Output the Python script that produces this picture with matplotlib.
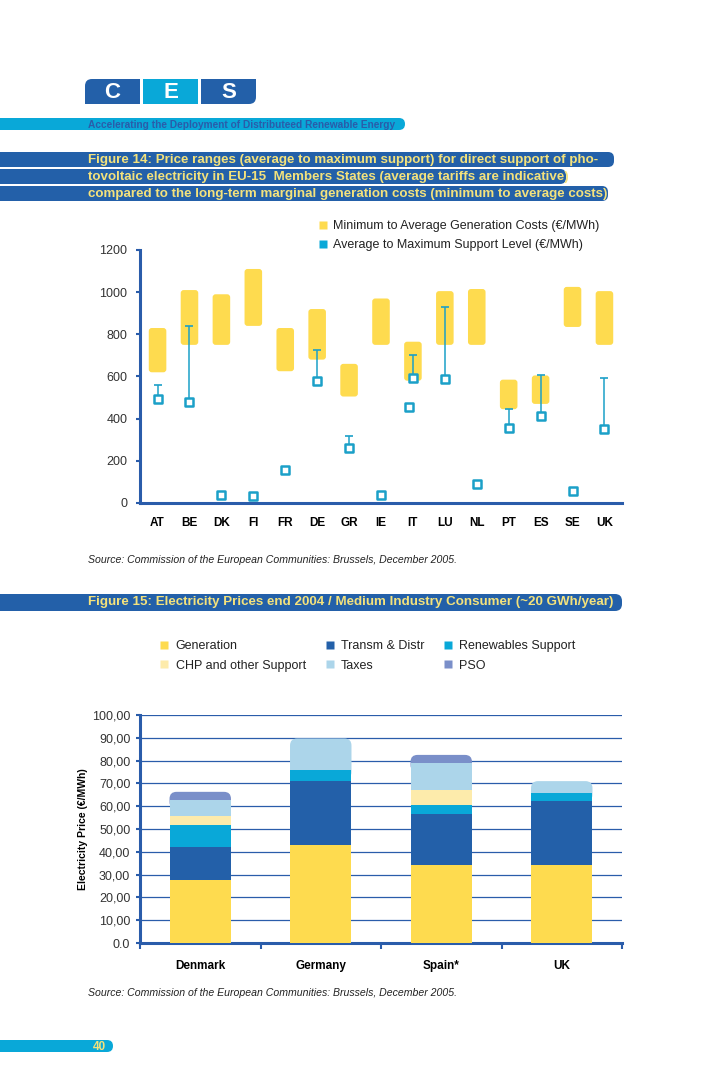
import matplotlib
matplotlib.use('Agg')
import matplotlib.pyplot as plt
from matplotlib.patches import FancyBboxPatch, Rectangle
from matplotlib.lines import Line2D
from matplotlib.markers import MarkerStyle
import numpy as np

plt.rcParams['font.family'] = ['Liberation Sans', 'DejaVu Sans']

# --- Figure 14 data (EUR/MWh) ---
countries = ['AT', 'BE', 'DK', 'FI', 'FR', 'DE', 'GR', 'IE', 'IT', 'LU', 'NL', 'PT', 'ES', 'SE', 'UK']
gen_min = [620, 750, 750, 840, 625, 680, 505, 750, 580, 750, 750, 445, 470, 835, 750]
gen_avg = [830, 1010, 990, 1110, 830, 920, 660, 970, 765, 1005, 1015, 585, 605, 1025, 1005]
support_avg = [495, 480, 40, 35, 155, 580, 260, 40, 595, 590, 90, 355, 415, 55, 350]
support_max = [558, 840, None, None, None, 725, 320, None, 700, 930, None, 445, 605, None, 595]
extra_country = 'IT'   # second support point drawn beside IT
extra_value = 455
y14_ticks = [0, 200, 400, 600, 800, 1000, 1200]

# --- Figure 15 data (EUR/MWh) ---
markets = ['Denmark', 'Germany', 'Spain*', 'UK']
generation = [27.8, 43.1, 34.2, 34.4]
transm_distr = [14.1, 27.8, 22.4, 27.7]
renewables = [9.8, 5.0, 3.8, 3.9]
chp_other = [3.9, 0.0, 6.8, 0.0]
taxes = [7.2, 13.8, 11.8, 5.0]
pso = [3.5, 0.0, 3.5, 0.0]
price_ticks = [0, 10, 20, 30, 40, 50, 60, 70, 80, 90, 100]
price_tick_labels = ['0.0', '10,00', '20,00', '30,00', '40,00', '50,00',
                     '60,00', '70,00', '80,00', '90,00', '100,00']

YELLOW = '#fedb4f'
DBLUE = '#2360a9'
CYAN = '#09a8d8'
LYELLOW = '#fdebab'
LBLUE = '#acd5ea'
PSOCOL = '#7a8fc9'
AXBLUE = '#2a5caa'
MARK = '#1ba0c8'
TXTYEL = '#f4e27c'

W, H = 728, 1092
fig = plt.figure(figsize=(W / 100, H / 100), dpi=100)

# page layer in pixel coordinates
page = fig.add_axes([0, 0, 1, 1], zorder=0)
page.set_xlim(0, W)
page.set_ylim(H, 0)
page.axis('off')


def rbox(x0, y0, x1, y1, color, r):
    page.add_patch(FancyBboxPatch((x0, y0), x1 - x0, y1 - y0,
                                  boxstyle='round,pad=0,rounding_size=%s' % r,
                                  fc=color, ec='none'))


# CES logo
for i, (letter, col) in enumerate(zip('CES', [DBLUE, CYAN, DBLUE])):
    x0 = 85 + i * 58
    if i == 1:
        page.add_patch(Rectangle((x0, 79), 55, 25, fc=col, ec='none'))
    else:
        rbox(x0, 79, x0 + 55, 104, col, 7)
        if i == 0:
            page.add_patch(Rectangle((x0 + 8, 79), 47, 25, fc=col, ec='none'))
            page.add_patch(Rectangle((x0, 87), 55, 17, fc=col, ec='none'))
        else:
            page.add_patch(Rectangle((x0, 79), 47, 25, fc=col, ec='none'))
            page.add_patch(Rectangle((x0, 79), 55, 17, fc=col, ec='none'))
    page.text(x0 + 27.5, 92, letter, color='white', fontsize=16, fontweight='bold',
              ha='center', va='center')

rbox(-20, 118, 405, 130, CYAN, 6)
page.text(88, 124.5, 'Accelerating the Deployment of Distributeed Renewable Energy',
          color=AXBLUE, fontsize=7.3, fontweight='bold', va='center')

title14 = ['Figure 14: Price ranges (average to maximum support) for direct support of pho-',
           'tovoltaic electricity in EU-15  Members States (average tariffs are indicative)',
           'compared to the long-term marginal generation costs (minimum to average costs)']
ends14 = [614, 566, 608]
for k, (line, xe) in enumerate(zip(title14, ends14)):
    y0 = 152 + 17 * k
    rbox(-20, y0, xe, y0 + 15, DBLUE, 6)
    page.text(88, y0 + 7.8, line, color=TXTYEL, fontsize=9.6, fontweight='bold',
              va='center')

source = 'Source: Commission of the European Communities: Brussels, December 2005.'
page.text(88, 560, source, fontsize=7.6, style='italic', color='#222222', va='center')
page.text(88, 993, source, fontsize=7.6, style='italic', color='#222222', va='center')

rbox(-20, 594, 622, 611, DBLUE, 7)
page.text(88, 602.5, 'Figure 15: Electricity Prices end 2004 / Medium Industry Consumer (~20 GWh/year)',
          color=TXTYEL, fontsize=9.6, fontweight='bold', va='center')

rbox(-20, 1040, 113, 1052, CYAN, 6)
page.text(93, 1046.5, '40', color=TXTYEL, fontsize=8.5, fontweight='bold', va='center')


def data_aspect(ax):
    bb = ax.get_position()
    xl, yl = ax.get_xlim(), ax.get_ylim()
    px = bb.width * W / (xl[1] - xl[0])
    py = bb.height * H / (yl[1] - yl[0])
    return px / py, px


# ---------------- Figure 14 ----------------
ax1 = fig.add_axes([140 / W, 1 - 503 / H, 482 / W, 253 / H], zorder=1)
ax1.patch.set_visible(False)
x = np.arange(len(countries))
ax1.set_xlim(-0.55, len(countries) - 0.45)
ax1.set_ylim(0, 1200)
asp1, px1 = data_aspect(ax1)
bw = 0.55
for xi, lo, hi in zip(x, gen_min, gen_avg):
    ax1.add_patch(FancyBboxPatch((xi - bw / 2, lo), bw, hi - lo,
                                 boxstyle='round,pad=0,rounding_size=%s' % (3 / px1),
                                 mutation_aspect=asp1, fc=YELLOW, ec='none', zorder=2))

xe = [xi for xi, m in zip(x, support_max) if m is not None]
ye = [a for a, m in zip(support_avg, support_max) if m is not None]
up = [m - a for a, m in zip(support_avg, support_max) if m is not None]
ax1.errorbar(xe, ye, yerr=[np.zeros(len(up)), up], fmt='none', ecolor=MARK,
             elinewidth=1.1, capsize=3, capthick=1.2, zorder=3)
sq = MarkerStyle('s', joinstyle='round')
ax1.plot(x, support_avg, linestyle='none', marker=sq, ms=5.5, mew=1.8,
         mec=MARK, mfc='white', zorder=4)
ax1.plot([countries.index(extra_country) - 0.13], [extra_value], linestyle='none',
         marker=sq, ms=5.5, mew=1.8, mec=MARK, mfc='white', zorder=4)

ax1.set_xticks(x)
ax1.set_xticklabels(countries, fontsize=8.5, fontweight='bold')
ax1.set_yticks(y14_ticks)
ax1.tick_params(axis='x', length=0, pad=10)
ax1.tick_params(axis='y', length=3, width=1.5, color=AXBLUE, labelsize=9,
                labelcolor='#333333', pad=6)
for s in ['top', 'right']:
    ax1.spines[s].set_visible(False)
for s in ['left', 'bottom']:
    ax1.spines[s].set_color(AXBLUE)
    ax1.spines[s].set_linewidth(2.2)

h14 = [Line2D([], [], linestyle='none', marker='s', ms=6, mfc=YELLOW, mec='none'),
       Line2D([], [], linestyle='none', marker='s', ms=6, mfc=CYAN, mec='none')]
fig.legend(h14, ['Minimum to Average Generation Costs (€/MWh)',
                 'Average to Maximum Support Level (€/MWh)'],
           loc='upper left', bbox_to_anchor=(312 / W, 1 - 214 / H), frameon=False,
           fontsize=9, handlelength=0.8, handletextpad=0.4, borderpad=0,
           labelspacing=0.55, labelcolor='#222222')

# ---------------- Figure 15 ----------------
ax2 = fig.add_axes([140 / W, 1 - 943 / H, 482 / W, 228 / H], zorder=1)
ax2.patch.set_visible(False)
xm = np.arange(len(markets))
ax2.set_xlim(-0.5, len(markets) - 0.5)
ax2.set_ylim(0, 100)
asp2, px2 = data_aspect(ax2)

series = np.array([generation, transm_distr, renewables, chp_other, taxes, pso])
colors = [YELLOW, DBLUE, CYAN, LYELLOW, LBLUE, PSOCOL]
labels = ['Generation', 'Transm & Distr', 'Renewables Support',
          'CHP and other Support', 'Taxes', 'PSO']
bottoms = np.vstack([np.zeros(len(markets)), np.cumsum(series, axis=0)[:-1]])
top_idx = [max(i for i in range(len(series)) if series[i, j] > 0) for j in range(len(markets))]
bw2 = 0.51
for i in range(len(series)):
    h = np.array([0 if top_idx[j] == i else series[i, j] for j in range(len(markets))])
    ax2.bar(xm, h, bw2, bottom=bottoms[i], color=colors[i], zorder=3)
for j in range(len(markets)):
    i = top_idx[j]
    ax2.add_patch(FancyBboxPatch((xm[j] - bw2 / 2, bottoms[i, j] - 4), bw2, series[i, j] + 4,
                                 boxstyle='round,pad=0,rounding_size=%s' % (7 / px2),
                                 mutation_aspect=asp2, fc=colors[i], ec='none', zorder=2.5))

ax2.set_yticks(price_ticks)
ax2.set_yticklabels(price_tick_labels)
ax2.yaxis.grid(True, color=AXBLUE, linewidth=0.9)
ax2.set_axisbelow(True)
ax2.set_xticks(xm)
ax2.set_xticklabels(markets, fontsize=8.5, fontweight='bold')
ax2.set_xticks(np.arange(-0.5, len(markets)), minor=True)
ax2.tick_params(axis='x', which='major', length=0, pad=12)
ax2.tick_params(axis='x', which='minor', length=4, width=1.5, color=AXBLUE)
ax2.tick_params(axis='y', length=3, width=1.5, color=AXBLUE, labelsize=9,
                labelcolor='#333333', pad=4)
for s in ['top', 'right']:
    ax2.spines[s].set_visible(False)
for s in ['left', 'bottom']:
    ax2.spines[s].set_color(AXBLUE)
    ax2.spines[s].set_linewidth(2.2)
ax2.set_ylabel('Electricity Price (€/MWh)', fontsize=7.5, fontweight='bold', labelpad=3)

order = [0, 3, 1, 4, 2, 5]
h15 = [Line2D([], [], linestyle='none', marker='s', ms=6, mfc=colors[i], mec='none') for i in order]
fig.legend(h15, [labels[i] for i in order], ncol=3, loc='upper left',
           bbox_to_anchor=(153 / W, 1 - 634 / H), frameon=False, fontsize=9,
           handlelength=0.8, handletextpad=0.5, borderpad=0, labelspacing=0.6,
           columnspacing=1.5, labelcolor='#222222')

fig.savefig('out.png', dpi=100)
